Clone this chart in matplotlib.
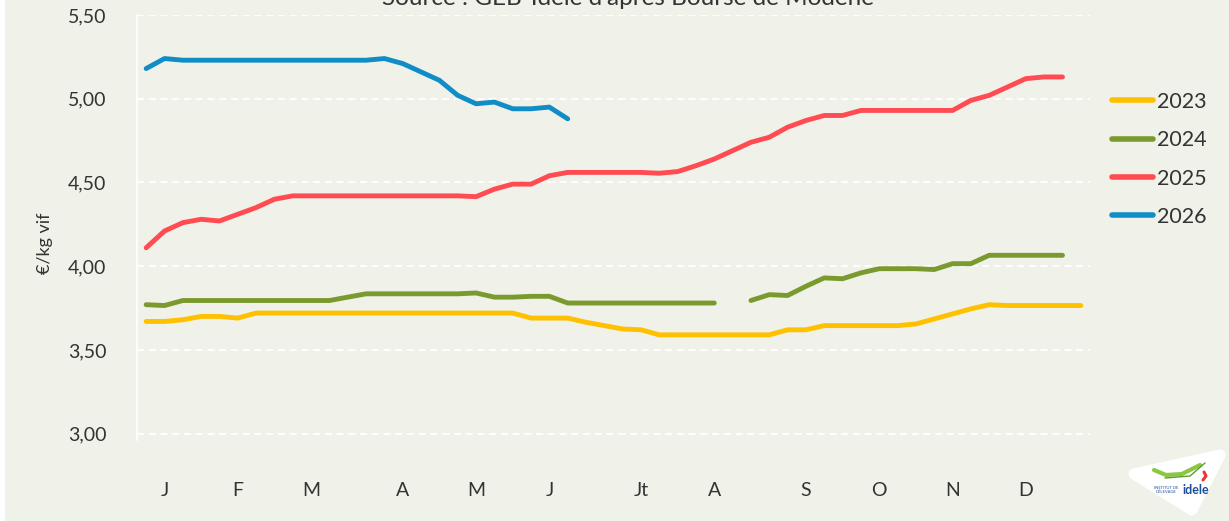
import matplotlib

matplotlib.use("Agg")
import matplotlib.pyplot as plt
import numpy as np
from matplotlib.patches import Polygon, Rectangle

BG = "#F0F1E8"
TXT = "#333333"

weeks = np.arange(1, 53)
month_weeks = [2, 6, 10, 15, 19, 23, 28, 32, 37, 41, 45, 49]
month_labels = ["J", "F", "M", "A", "M", "J", "Jt", "A", "S", "O", "N", "D"]

nan = np.nan
y2023 = [3.67, 3.67, 3.68, 3.70, 3.70, 3.69, 3.72, 3.72, 3.72, 3.72, 3.72, 3.72,
         3.72, 3.72, 3.72, 3.72, 3.72, 3.72, 3.72, 3.72, 3.72, 3.69, 3.69, 3.69,
         3.665, 3.645, 3.625, 3.62, 3.59, 3.59, 3.59, 3.59, 3.59, 3.59, 3.59,
         3.62, 3.62, 3.645, 3.645, 3.645, 3.645, 3.645, 3.655, 3.685, 3.715,
         3.745, 3.77, 3.765, 3.765, 3.765, 3.765, 3.765]
y2024 = [3.77, 3.765, 3.795, 3.795, 3.795, 3.795, 3.795, 3.795, 3.795, 3.795,
         3.795, 3.815, 3.835, 3.835, 3.835, 3.835, 3.835, 3.835, 3.84, 3.815,
         3.815, 3.82, 3.82, 3.78, 3.78, 3.78, 3.78, 3.78, 3.78, 3.78, 3.78, 3.78,
         nan, 3.795, 3.83, 3.825, 3.88, 3.93, 3.925, 3.96, 3.985, 3.985, 3.985,
         3.98, 4.015, 4.015, 4.065, 4.065, 4.065, 4.065, 4.065, nan]
y2025 = [4.11, 4.21, 4.26, 4.28, 4.27, 4.31, 4.35, 4.40, 4.42, 4.42, 4.42, 4.42,
         4.42, 4.42, 4.42, 4.42, 4.42, 4.42, 4.415, 4.46, 4.49, 4.49, 4.54, 4.56,
         4.56, 4.56, 4.56, 4.56, 4.555, 4.565, 4.60, 4.64, 4.69, 4.74, 4.77, 4.83,
         4.87, 4.90, 4.90, 4.93, 4.93, 4.93, 4.93, 4.93, 4.93, 4.99, 5.02, 5.07,
         5.12, 5.13, 5.13, nan]
y2026 = [5.18, 5.24, 5.23, 5.23, 5.23, 5.23, 5.23, 5.23, 5.23, 5.23, 5.23, 5.23,
         5.23, 5.24, 5.21, 5.16, 5.11, 5.02, 4.97, 4.98, 4.94, 4.94, 4.95, 4.88]

series = [("2023", y2023, "#FFC000"),
          ("2024", y2024, "#7A9A2E"),
          ("2025", y2025, "#FF4B51"),
          ("2026", y2026, "#108DC7")]

plt.rcParams["font.family"] = ["Lato", "DejaVu Sans"]

fig = plt.figure(figsize=(12.29, 5.21), dpi=100, facecolor=BG)
ax = fig.add_axes([137 / 1229, 1 - 440 / 521, (1090 - 137) / 1229, (440 - 15) / 521])
ax.set_facecolor(BG)

for label, vals, color in series:
    ax.plot(weeks[:len(vals)], vals, color=color, lw=3.5, label=label,
            solid_capstyle="round", solid_joinstyle="round")

ax.set_xlim(0.5, 52.5)
ax.set_ylim(2.962, 5.5)
yt = [3.0, 3.5, 4.0, 4.5, 5.0, 5.5]
ax.set_yticks(yt)
ax.set_yticklabels([f"{v:.2f}".replace(".", ",") for v in yt])
ax.set_xticks(month_weeks)
ax.set_xticklabels(month_labels)
ax.tick_params(axis="y", length=0, pad=22, labelsize=14, labelcolor=TXT)
ax.tick_params(axis="x", length=0, pad=30, labelsize=14, labelcolor=TXT)
for v in yt:
    ax.axhline(v, color="white", lw=1.3, ls=(0, (4, 2.5)), zorder=0)
for s in ["top", "right", "bottom"]:
    ax.spines[s].set_visible(False)
ax.spines["left"].set_color("white")
ax.spines["left"].set_linewidth(1.2)

fig.text(45 / 1229, 1 - 243 / 521, "€/kg vif", rotation=90, ha="center",
         va="center", fontsize=13, color=TXT)
fig.text(628 / 1229, 1 - 5 / 521, "Source : GEB-Idele d'après Bourse de Modène",
         ha="center", va="baseline", fontsize=17.5, color=TXT)

leg = ax.legend(loc="upper left", bbox_to_anchor=(1112 / 1229, 1 - 92 / 521),
                bbox_transform=fig.transFigure, frameon=False, fontsize=15.5,
                handlelength=1.9, handletextpad=0.2, labelspacing=0.85,
                borderpad=0, borderaxespad=0)
for t in leg.get_texts():
    t.set_color(TXT)
for h in leg.get_lines():
    h.set_linewidth(4)

# left border strip and logo badge
fig.patches.append(Rectangle((0, 0), 5 / 1229, 1, transform=fig.transFigure,
                             facecolor="white", edgecolor="none"))
logo = Polygon([(1134 / 1229, 1 - 474 / 521), (1220 / 1229, 1 - 455 / 521),
                (1192 / 1229, 1 - 510 / 521)], closed=True,
               transform=fig.transFigure, facecolor="white", edgecolor="white",
               lw=8, joinstyle="round")
fig.patches.append(logo)
fig.text(1196 / 1229, 1 - 490 / 521, "idele", ha="center", va="center",
         fontsize=9, fontweight="bold", color="#1D4E9E")
fig.text(1166 / 1229, 1 - 490 / 521, "INSTITUT DE\nL'ÉLEVAGE", ha="center",
         va="center", fontsize=3, color="#1D4E9E", linespacing=1.0)
fig.lines.append(plt.Line2D([1154 / 1229, 1166 / 1229, 1182 / 1229, 1200 / 1229],
                            [1 - 470 / 521, 1 - 475 / 521, 1 - 474 / 521, 1 - 465 / 521],
                            transform=fig.transFigure, color="#8DC63F", lw=3,
                            solid_capstyle="round", solid_joinstyle="round"))
fig.lines.append(plt.Line2D([1165 / 1229, 1190 / 1229, 1205 / 1229],
                            [1 - 478 / 521, 1 - 476 / 521, 1 - 463 / 521],
                            transform=fig.transFigure, color="#5A9E2E", lw=1,
                            solid_capstyle="round"))
fig.lines.append(plt.Line2D([1204 / 1229, 1206 / 1229, 1203 / 1229],
                            [1 - 472 / 521, 1 - 476 / 521, 1 - 480 / 521],
                            transform=fig.transFigure, color="#E8343A", lw=2.2,
                            solid_capstyle="round"))

fig.savefig("out.png", dpi=100, facecolor=BG)
